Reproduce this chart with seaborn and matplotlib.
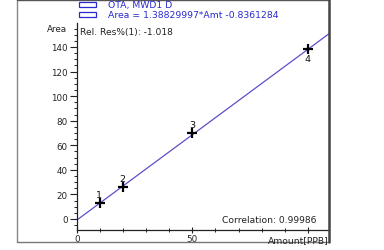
import matplotlib
matplotlib.use("Agg")
import matplotlib.pyplot as plt
import seaborn as sns
import numpy as np
import pandas as pd
from matplotlib.patches import Rectangle
from matplotlib.lines import Line2D
from matplotlib.ticker import MultipleLocator, FuncFormatter

# Data
amounts = [10, 20, 50, 100]
areas = [12.9, 25.8, 69.6, 138.4]
point_labels = ["1", "2", "3", "4"]
slope = 1.38829997
intercept = -0.8361284
fit_x = [0, 109.2]
x_tick_labels = {0: "0", 50: "50"}
legend_texts = ["OTA, MWD1 D", "Area = 1.38829997*Amt -0.8361284"]

sns.set_style("white")
plt.rcParams['font.family'] = ['DejaVu Sans']

fig = plt.figure(figsize=(3.84, 2.51), dpi=100)
W, H = 384, 251
ax = fig.add_axes([77 / W, (H - 231) / H, (329 - 77) / W, (231 - 24) / H])
ax.set_facecolor("none")

fit_df = pd.DataFrame({"x": fit_x, "y": [slope * v + intercept for v in fit_x]})
sns.lineplot(data=fit_df, x="x", y="y", ax=ax, color="#5a4fc8", linewidth=0.9)
pts = pd.DataFrame({"x": amounts, "y": areas})
sns.scatterplot(data=pts, x="x", y="y", ax=ax, marker="+", s=55, color="black",
                linewidth=1.6, zorder=5)

offsets = [(-1, 9), (-1, 9), (0, 9), (0, -10)]
for xv, yv, lab, (dx, dy) in zip(amounts, areas, point_labels, offsets):
    ax.annotate(lab, (xv, yv), xytext=(dx, dy), textcoords="offset pixels",
                ha="center", va="center", fontsize=6.8, color="#111111")

ax.set_xlim(0, 109.2)
ax.set_ylim(-9, 159.5)
ax.set_xlabel("")
ax.set_ylabel("")
ax.xaxis.set_major_locator(MultipleLocator(50))
ax.xaxis.set_minor_locator(MultipleLocator(10))
ax.xaxis.set_major_formatter(FuncFormatter(lambda v, p: x_tick_labels.get(int(round(v)), "")))
ax.yaxis.set_major_locator(MultipleLocator(20))
ax.yaxis.set_minor_locator(MultipleLocator(5))
ax.tick_params(axis="y", which="major", direction="out", length=5, width=0.8,
               labelsize=6.3, colors="#222222", pad=1.5, left=True)
ax.tick_params(axis="y", which="minor", direction="out", length=2.5, width=0.7,
               colors="#222222", left=True)
ax.tick_params(axis="x", which="major", direction="inout", length=5, width=0.8,
               labelsize=6.3, colors="#222222", pad=0.5, bottom=True)
ax.tick_params(axis="x", which="minor", direction="inout", length=2.5, width=0.7,
               colors="#222222", bottom=True)
for s in ["top", "right"]:
    ax.spines[s].set_visible(False)
for s in ["left", "bottom"]:
    ax.spines[s].set_color("#222222")
    ax.spines[s].set_linewidth(0.9)

# outer frame
fig.add_artist(Line2D([17 / W, 17 / W], [(H - 243) / H, 1], color="#888888", lw=1.0))
fig.add_artist(Line2D([17 / W, 329 / W], [(H - 243) / H, (H - 243) / H], color="#777777", lw=1.0))
fig.add_artist(Line2D([17 / W, 329 / W], [(H - 0.5) / H, (H - 0.5) / H], color="#555555", lw=1.0))
fig.add_artist(Line2D([329 / W, 329 / W], [(H - 243) / H, 1], color="#444444", lw=1.8))

# legend
for i, t in enumerate(legend_texts):
    yc = 5.5 + i * 10
    fig.add_artist(Rectangle((79 / W, (H - yc - 2.5) / H), 17 / W, 5 / H,
                             fill=False, edgecolor="#2a2ad0", lw=0.9))
    fig.text(108 / W, (H - yc) / H, t, ha="left", va="center", fontsize=6.7,
             color="#2a2ad0")

fig.text(67 / W, (H - 30) / H, "Area", ha="right", va="center", fontsize=6.3, color="#222222")
fig.text(80 / W, (H - 33) / H, "Rel. Res%(1): -1.018", ha="left", va="center",
         fontsize=6.6, color="#222222")
fig.text(316 / W, (H - 221) / H, "Correlation: 0.99986", ha="right", va="center",
         fontsize=6.6, color="#222222")
fig.text(329 / W, (H - 240.5) / H, "Amount[PPB]", ha="right", va="center",
         fontsize=6.6, color="#222222")

fig.savefig("out.png", dpi=100)
